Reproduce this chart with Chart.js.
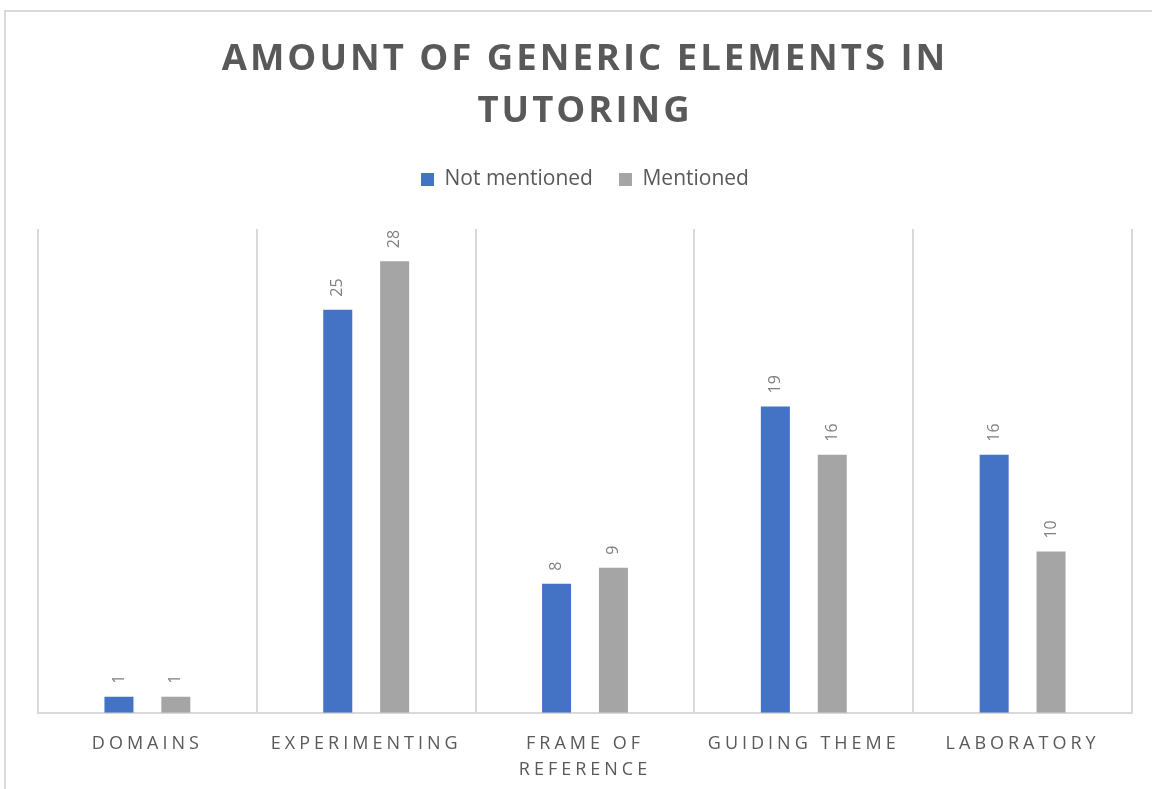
<!DOCTYPE html>
<html>
<head>
<meta charset="utf-8">
<script src="https://cdn.jsdelivr.net/npm/chart.js@4/dist/chart.umd.min.js"></script>
<style>
  html, body { margin: 0; padding: 0; background: #fff; }
  #wrap { width: 1152px; height: 789px; position: relative; }
</style>
</head>
<body>
<div id="wrap"><canvas id="tutoringChart"></canvas></div>
<script>
// Chart data
const categories = ['DOMAINS', 'EXPERIMENTING', ['FRAME OF', 'REFERENCE'], 'GUIDING THEME', 'LABORATORY'];
const notMentioned = [1, 25, 8, 19, 16];
const mentioned = [1, 28, 9, 16, 10];
const titleLines = ['AMOUNT OF GENERIC ELEMENTS IN', 'TUTORING'];

const textGray = '#595959';
const lineGray = '#D9D9D9';

// frame, title and value labels, drawn with letter spacing
const decorPlugin = {
    id: 'decor',
    beforeInit(chart) {
        // push the plot area down under the legend
        const fit = chart.legend.fit;
        chart.legend.fit = function() {
            fit.bind(chart.legend)();
            this.height += 29;
        };
    },
    beforeDraw(chart) {
        const ctx = chart.ctx;
        ctx.save();
        ctx.strokeStyle = lineGray;
        ctx.lineWidth = 2;
        ctx.strokeRect(5, 11, 1160, 800);
        ctx.restore();
        ctx.letterSpacing = '0px';
    },
    afterDatasetsDraw(chart) {
        const ctx = chart.ctx;
        ctx.save();
        ctx.font = '16px "Open Sans"';
        ctx.fillStyle = '#7F7F7F';
        ctx.textAlign = 'left';
        ctx.textBaseline = 'middle';
        chart.data.datasets.forEach(function(ds, i) {
            chart.getDatasetMeta(i).data.forEach(function(bar, j) {
                ctx.save();
                ctx.translate(bar.x, bar.y - 13);
                ctx.rotate(-Math.PI / 2);
                ctx.fillText(String(ds.data[j]), 0, 0);
                ctx.restore();
            });
        });
        ctx.restore();
        // x tick labels are drawn after this (ticks z: 1), spaced out
        ctx.letterSpacing = '4px';
    },
    afterDraw(chart) {
        const ctx = chart.ctx;
        ctx.save();
        ctx.letterSpacing = '3px';
        ctx.font = 'bold 36.5px "Open Sans"';
        ctx.fillStyle = textGray;
        ctx.textAlign = 'center';
        ctx.textBaseline = 'middle';
        const cx = (chart.chartArea.left + chart.chartArea.right) / 2;
        titleLines.forEach(function(line, i) {
            ctx.fillText(line, cx, 60 + i * 52);
        });
        ctx.restore();
        ctx.letterSpacing = '0px';
    }
};

document.addEventListener('DOMContentLoaded', function() {
    const ctx = document.getElementById('tutoringChart');

    new Chart(ctx, {
        type: 'bar',
        data: {
            labels: categories,
            datasets: [{
                label: 'Not mentioned',
                data: notMentioned,
                backgroundColor: '#4472C4',
                categoryPercentage: 0.52,
                barPercentage: 0.51
            }, {
                label: 'Mentioned',
                data: mentioned,
                backgroundColor: '#A5A5A5',
                categoryPercentage: 0.52,
                barPercentage: 0.51
            }]
        },
        options: {
            responsive: true,
            maintainAspectRatio: false,
            animation: false,
            layout: {
                padding: { top: 143, left: 38, right: 20, bottom: -12 }
            },
            scales: {
                x: {
                    grid: {
                        color: lineGray,
                        lineWidth: 2,
                        drawTicks: false
                    },
                    border: { color: lineGray, width: 2 },
                    ticks: {
                        z: 1,
                        color: textGray,
                        font: { family: '"Open Sans"', size: 18, lineHeight: 1.45 },
                        padding: 18,
                        maxRotation: 0,
                        autoSkip: false
                    }
                },
                y: {
                    display: false,
                    min: 0,
                    max: 30
                }
            },
            plugins: {
                legend: {
                    position: 'top',
                    labels: {
                        color: textGray,
                        font: { family: '"Open Sans"', size: 21 },
                        boxWidth: 13,
                        boxHeight: 13,
                        padding: 26
                    }
                },
                tooltip: { enabled: false }
            }
        },
        plugins: [decorPlugin]
    });
});
</script>
</body>
</html>
